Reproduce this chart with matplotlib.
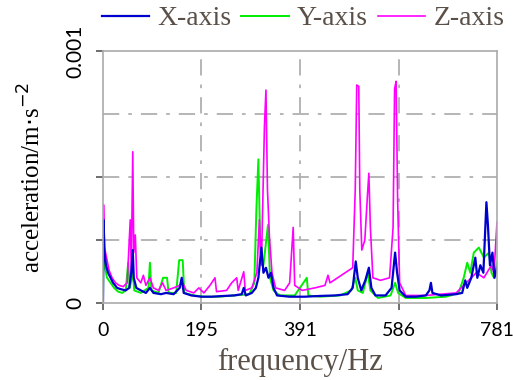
import numpy as np
import matplotlib
matplotlib.use("Agg")
import matplotlib.pyplot as plt
import matplotlib.transforms as mtransforms

# spectrum values, acceleration in 1e-3 m/s^2
x_freq = [0, 1, 3, 6, 10, 15, 20, 28, 35, 45, 52, 56, 59, 61, 66, 75, 85, 93, 100, 115,
          125, 140, 152, 156, 160, 175, 195, 215, 240, 260, 275, 279, 283, 295, 303, 308,
          314, 318, 323, 328, 333, 338, 345, 370, 400, 430, 460, 485, 495, 501, 505, 512,
          520, 527, 532, 540, 560, 572, 579, 583, 588, 600, 620, 640, 647, 650, 653, 670,
          700, 712, 718, 722, 730, 738, 742, 748, 754, 760, 763, 767, 772, 776, 781]
x_acc = [0.0, 0.33, 0.2, 0.15, 0.12, 0.1, 0.08, 0.06, 0.055, 0.05, 0.06, 0.12, 0.21, 0.1,
         0.06, 0.05, 0.04, 0.06, 0.04, 0.035, 0.04, 0.035, 0.06, 0.1, 0.04, 0.03, 0.025,
         0.025, 0.028, 0.03, 0.035, 0.06, 0.03, 0.04, 0.06, 0.1, 0.22, 0.12, 0.14, 0.1,
         0.12, 0.06, 0.03, 0.025, 0.025, 0.028, 0.03, 0.035, 0.06, 0.165, 0.1, 0.05, 0.09,
         0.14, 0.06, 0.03, 0.03, 0.06, 0.2, 0.12, 0.05, 0.025, 0.025, 0.03, 0.05, 0.08,
         0.04, 0.03, 0.035, 0.04, 0.09, 0.06, 0.1, 0.18, 0.1, 0.15, 0.12, 0.40, 0.31, 0.15,
         0.2, 0.1, 0.14]

y_freq = [0, 1, 3, 8, 15, 22, 30, 38, 45, 50, 53, 59, 62, 75, 90, 93, 96, 110, 119, 127,
          130, 145, 151, 158, 161, 180, 200, 230, 260, 290, 300, 304, 308, 312, 318, 327,
          331, 338, 350, 380, 404, 407, 430, 470, 492, 500, 505, 515, 525, 530, 545, 570,
          579, 585, 600, 640, 680, 705, 715, 722, 728, 735, 745, 755, 765, 770, 775, 781]
y_acc = [0.0, 0.25, 0.15, 0.1, 0.08, 0.06, 0.045, 0.04, 0.05, 0.16, 0.06, 0.12, 0.05, 0.04,
         0.06, 0.16, 0.05, 0.04, 0.1, 0.1, 0.04, 0.04, 0.17, 0.17, 0.04, 0.03, 0.025, 0.025,
         0.03, 0.035, 0.08, 0.37, 0.57, 0.2, 0.15, 0.31, 0.1, 0.05, 0.03, 0.03, 0.1, 0.03,
         0.025, 0.03, 0.05, 0.1, 0.05, 0.04, 0.12, 0.05, 0.02, 0.03, 0.08, 0.04, 0.02, 0.02,
         0.025, 0.04, 0.1, 0.16, 0.12, 0.2, 0.22, 0.18, 0.2, 0.12, 0.1, 0.16]

z_freq = [0, 1, 3, 7, 12, 18, 25, 32, 40, 48, 54, 56, 59, 61, 64, 67, 75, 80, 85, 93, 100,
          110, 118, 125, 140, 152, 158, 165, 180, 190, 200, 212, 222, 225, 245, 255, 265,
          268, 279, 282, 295, 305, 310, 314, 320, 323, 326, 330, 335, 342, 360, 370, 377,
          380, 395, 420, 440, 446, 450, 465, 480, 495, 500, 503, 507, 509, 513, 519, 524,
          527, 530, 535, 550, 568, 575, 578, 581, 584, 588, 600, 640, 700, 720, 740, 755,
          770, 775, 781]
z_acc = [0.0, 0.39, 0.22, 0.18, 0.13, 0.1, 0.08, 0.07, 0.065, 0.08, 0.33, 0.12, 0.60, 0.2,
         0.27, 0.1, 0.08, 0.11, 0.07, 0.1, 0.06, 0.05, 0.08, 0.05, 0.06, 0.07, 0.08, 0.05,
         0.04, 0.06, 0.04, 0.07, 0.1, 0.045, 0.05, 0.08, 0.1, 0.05, 0.124, 0.05, 0.06, 0.12,
         0.33, 0.15, 0.70, 0.845, 0.45, 0.26, 0.12, 0.06, 0.05, 0.08, 0.30, 0.07, 0.05,
         0.06, 0.07, 0.11, 0.08, 0.1, 0.12, 0.14, 0.45, 0.865, 0.86, 0.45, 0.21, 0.25, 0.42,
         0.515, 0.3, 0.1, 0.09, 0.1, 0.3, 0.85, 0.88, 0.41, 0.08, 0.03, 0.03, 0.04, 0.08,
         0.12, 0.1, 0.15, 0.12, 0.32]

x_ticks = [0, 195, 391, 586, 781]

fig = plt.figure(figsize=(5.13, 3.80), dpi=100)
ax = fig.add_axes([103 / 513, 77 / 380, 394 / 513, 252 / 380])

dash = (0, (9, 5, 2, 5))
for v in [0.25e-3, 0.5e-3, 0.75e-3]:
    ax.axhline(v, color="#b0b0b0", lw=1.3, ls=dash, zorder=0)
for v in x_ticks[1:-1]:
    ax.axvline(v, color="#b0b0b0", lw=1.3, ls=dash, zorder=0)

scale = 1e-3
lg, = ax.plot(y_freq, np.array(y_acc) * scale, color="#00ee00", lw=1.4)
lz, = ax.plot(z_freq, np.array(z_acc) * scale, color="#ff00ff", lw=1.2)
lx, = ax.plot(x_freq, np.array(x_acc) * scale, color="#0000cc", lw=1.6)

ax.set_xlim(0, 781)
ax.set_ylim(0, 1e-3)
ax.set_xticks(x_ticks)
ax.set_xticklabels([str(t) for t in x_ticks], fontfamily="Lato", fontsize=14)
ax.set_yticks([0, 0.25e-3, 0.5e-3, 1e-3])
ax.set_yticklabels(["0", "", "", "0.001"], fontfamily="Lato", fontsize=15,
                   rotation=90, va="center")
labs = ax.get_yticklabels()
labs[0].set_transform(labs[0].get_transform() +
                      mtransforms.ScaledTranslation(0, 12 / 100, fig.dpi_scale_trans))
labs[3].set_transform(labs[3].get_transform() +
                      mtransforms.ScaledTranslation(0, -8 / 100, fig.dpi_scale_trans))
ax.tick_params(direction="out", length=5, width=1.2, color="#555555", labelcolor="black")
ax.tick_params(axis="y", pad=8)
ax.tick_params(axis="x", pad=9)
for s in ax.spines.values():
    s.set_color("#aaaaaa")
    s.set_linewidth(1.2)

ax.set_xlabel("frequency/Hz", fontfamily="Liberation Serif", fontsize=22, color="#5a5048",
              labelpad=6)
ax.set_ylabel("acceleration/m$\\cdot$s$^{-2}$", fontfamily="Liberation Serif",
              fontsize=18, color="black", labelpad=14)

fig.legend([lx, lg, lz], ["X-axis", "Y-axis", "Z-axis"], loc="upper left",
           bbox_to_anchor=(102 / 513, 1 - 6 / 380), ncol=3, frameon=False,
           handlelength=1.7, columnspacing=0.35, handletextpad=0.3,
           borderpad=0, borderaxespad=0,
           prop={"family": "Liberation Serif", "size": 20}, labelcolor="#5a5048")

fig.savefig("out.png", dpi=100)
